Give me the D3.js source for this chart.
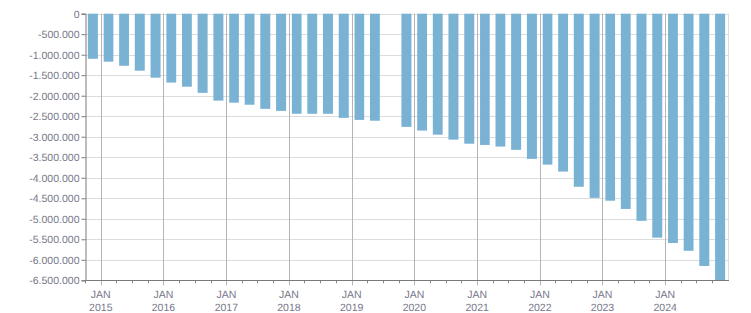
<!DOCTYPE html>
<html lang="es">
<head>
  <meta charset="UTF-8">
  <title>Saldo trimestral</title>
  <script src="https://d3js.org/d3.v7.min.js"></script>
  <style>
    body { margin: 0; padding: 0; background: #fff; }
    text { font-family: "Liberation Sans", Arial, sans-serif; font-size: 10px; fill: #77778a; }
  </style>
</head>
<body>
<script>
  const width = 751
  const height = 313

  // quarters (year, quarter) and values; Q3 2019 is missing
  const quarters = [
    "2014-Q4",
    "2015-Q1", "2015-Q2", "2015-Q3", "2015-Q4",
    "2016-Q1", "2016-Q2", "2016-Q3", "2016-Q4",
    "2017-Q1", "2017-Q2", "2017-Q3", "2017-Q4",
    "2018-Q1", "2018-Q2", "2018-Q3", "2018-Q4",
    "2019-Q1", "2019-Q2", "2019-Q3", "2019-Q4",
    "2020-Q1", "2020-Q2", "2020-Q3", "2020-Q4",
    "2021-Q1", "2021-Q2", "2021-Q3", "2021-Q4",
    "2022-Q1", "2022-Q2", "2022-Q3", "2022-Q4",
    "2023-Q1", "2023-Q2", "2023-Q3", "2023-Q4",
    "2024-Q1", "2024-Q2", "2024-Q3", "2024-Q4"
  ]
  const values = [
    -1100000,
    -1170000, -1270000, -1390000, -1560000,
    -1680000, -1780000, -1930000, -2120000,
    -2170000, -2220000, -2320000, -2370000,
    -2440000, -2440000, -2440000, -2540000,
    -2590000, -2610000, null, -2760000,
    -2850000, -2950000, -3070000, -3170000,
    -3200000, -3240000, -3320000, -3540000,
    -3680000, -3850000, -4220000, -4490000,
    -4560000, -4760000, -5050000, -5460000,
    -5590000, -5780000, -6150000, -6500000
  ]
  const yTicks = d3.range(0, -6500001, -500000)
  const yearTicks = d3.range(2015, 2025)

  const margin = { top: 13.67, right: 23, bottom: 32.7, left: 85 }

  const data = quarters.map((q, i) => {
    const year = +q.slice(0, 4)
    const qn = +q.slice(6)
    return {
      start: new Date(year, (qn - 1) * 3, 1),
      end: new Date(year, qn * 3, 1),
      value: values[i]
    }
  }).filter(d => d.value !== null)

  const x = d3.scaleTime()
    .domain([new Date(2014, 9, 1), new Date(2025, 0, 1)])
    .range([margin.left, width - margin.right])

  const y = d3.scaleLinear()
    .domain([-6500000, 0])
    .range([height - margin.bottom, margin.top])

  const locale = d3.formatLocale({ decimal: ",", thousands: ".", grouping: [3], currency: ["", ""], minus: "-" })
  const fmt = locale.format(",d")

  const svg = d3.select("body")
    .append("svg")
    .attr("width", width)
    .attr("height", height)
    .style("text-rendering", "geometricPrecision")

  // horizontal gridlines
  svg.append("g")
    .selectAll("line")
    .data(yTicks)
    .join("line")
    .attr("x1", margin.left)
    .attr("x2", width - margin.right)
    .attr("y1", d => Math.round(y(d)) + 0.5)
    .attr("y2", d => Math.round(y(d)) + 0.5)
    .attr("stroke", "#dcdcdc")

  // right border
  svg.append("line")
    .attr("x1", width - margin.right + 0.5)
    .attr("x2", width - margin.right + 0.5)
    .attr("y1", y(0))
    .attr("y2", y(-6500000))
    .attr("stroke", "#dcdcdc")

  // vertical gridlines at January
  const jan = yearTicks.map(yr => new Date(yr, 0, 1))
  svg.append("g")
    .selectAll("line")
    .data(jan)
    .join("line")
    .attr("x1", d => Math.round(x(d)) + 0.5)
    .attr("x2", d => Math.round(x(d)) + 0.5)
    .attr("y1", y(0))
    .attr("y2", y(-6500000) + 5)
    .attr("stroke", "#b4b4b4")

  // bars
  const pad = 2.9
  svg.append("g")
    .selectAll("rect")
    .data(data)
    .join("rect")
    .attr("x", d => x(d.start) + pad)
    .attr("width", d => x(d.end) - x(d.start) - 2 * pad)
    .attr("y", y(0))
    .attr("height", d => y(d.value) - y(0))
    .attr("fill", "#7ab2d4")

  // minor quarter ticks
  const minor = d3.timeMonth.every(3).range(new Date(2014, 9, 1), new Date(2025, 0, 2))
    .filter(d => d.getMonth() !== 0)
  svg.append("g")
    .selectAll("line")
    .data(minor)
    .join("line")
    .attr("x1", d => Math.round(x(d)) + 0.5)
    .attr("x2", d => Math.round(x(d)) + 0.5)
    .attr("y1", y(-6500000))
    .attr("y2", y(-6500000) + 3)
    .attr("stroke", "#888")

  // y axis
  const yAxis = svg.append("g")
    .attr("transform", `translate(${margin.left + 0.5},0)`)
    .call(d3.axisLeft(y).tickValues(yTicks).tickFormat(fmt).tickSize(4).tickPadding(2))
  yAxis.select(".domain").attr("stroke", "#7a7a7a")
  yAxis.selectAll(".tick line").attr("stroke", "#7a7a7a")
  yAxis.selectAll("text").attr("fill", "#77778a").style("font-size", "10.5px")
    .style("font-family", "'Liberation Sans', Arial, sans-serif")

  // bottom axis line
  svg.append("line")
    .attr("x1", margin.left)
    .attr("x2", width - margin.right + 1)
    .attr("y1", Math.round(y(-6500000)) + 0.5)
    .attr("y2", Math.round(y(-6500000)) + 0.5)
    .attr("stroke", "#7a7a7a")

  // x labels
  const xl = svg.append("g")
    .selectAll("text")
    .data(jan)
    .join("text")
    .attr("text-anchor", "middle")
    .style("font-size", "10.5px")
  xl.append("tspan")
    .attr("x", d => x(d))
    .attr("y", 298)
    .text("JAN")
  xl.append("tspan")
    .attr("x", d => x(d))
    .attr("y", 311)
    .text(d => d.getFullYear())
</script>
</body>
</html>
